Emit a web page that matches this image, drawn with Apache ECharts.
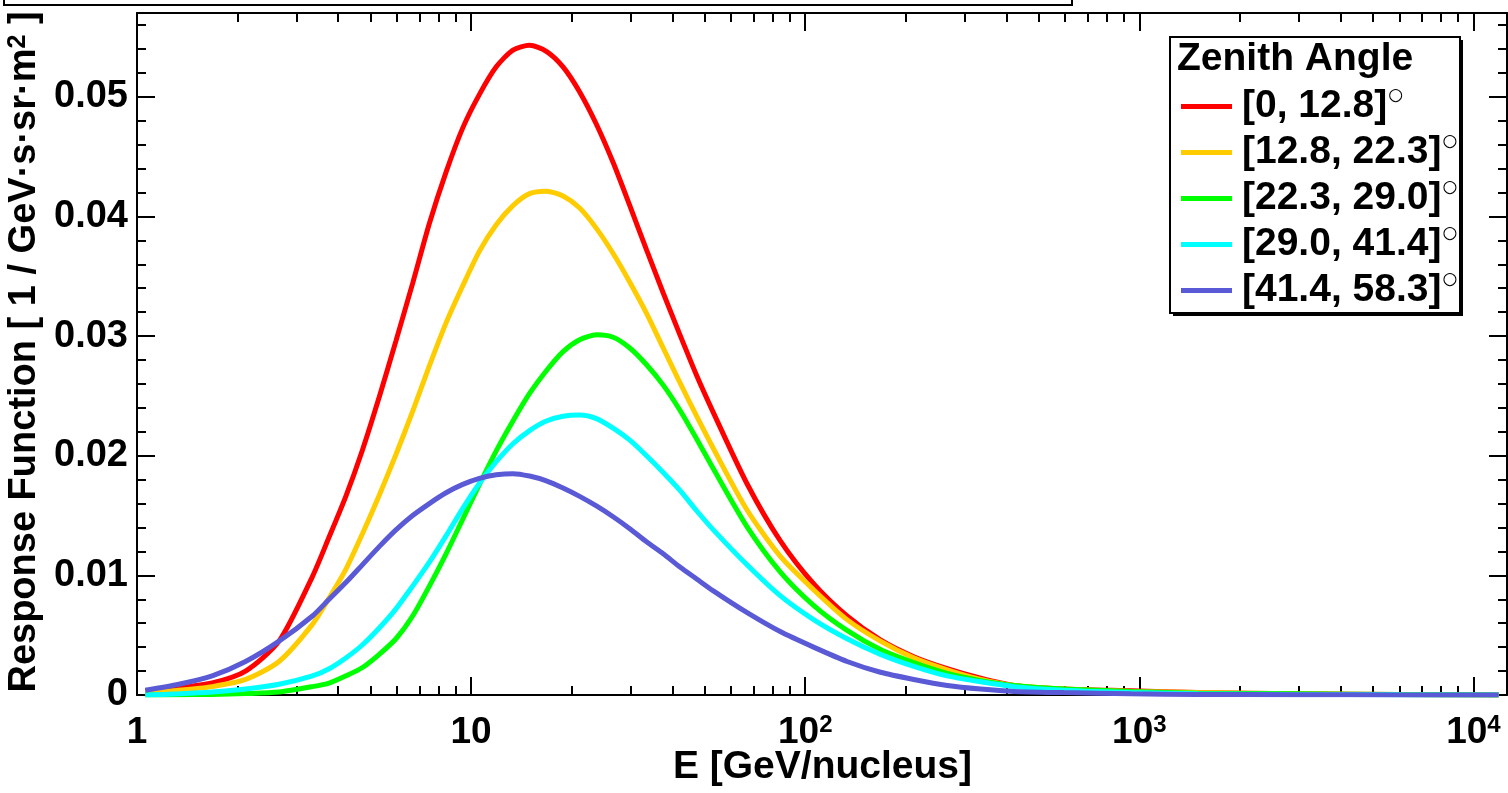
<!DOCTYPE html>
<html>
<head>
<meta charset="utf-8">
<script src="https://cdn.jsdelivr.net/npm/echarts@6/dist/echarts.min.js"></script>
<style>
html,body{margin:0;padding:0;background:#fff;}
#chart{width:1508px;height:793px;}
</style>
</head>
<body>
<div id="chart"></div>
<script>
// Energy bin centres [GeV/nucleus]
const energy = [1.059, 1.334, 1.679, 2.113, 2.661, 3.350, 3.758, 4.217, 4.732, 5.309,
  5.957, 6.683, 7.499, 8.414, 9.441, 10.59, 11.89, 13.34, 14.96, 16.79,
  18.84, 21.13, 23.71, 26.61, 29.85, 33.50, 37.58, 42.17, 47.32, 53.09,
  66.83, 84.14, 105.9, 133.4, 167.9, 211.3, 266.1, 335.0, 421.7, 595.7,
  944.1, 1496, 2985, 5957, 11885];

const seriesNames = ['[0, 12.8]°', '[12.8, 22.3]°', '[22.3, 29.0]°', '[29.0, 41.4]°', '[41.4, 58.3]°'];
const seriesColors = ['#ff0000', '#ffcc00', '#00ff00', '#00ffff', '#5a5ad6'];

const zen0 = [0.0003, 0.0006, 0.0010, 0.0020, 0.0045, 0.0099, 0.0132, 0.0166, 0.0205, 0.0249,
  0.0296, 0.0344, 0.0394, 0.0437, 0.0474, 0.0502, 0.0525, 0.0539, 0.0543, 0.0538,
  0.0525, 0.0504, 0.0477, 0.0445, 0.0409, 0.0372, 0.0336, 0.0301, 0.0267, 0.0236,
  0.0177, 0.0129, 0.0093, 0.0066, 0.0046, 0.0032, 0.0022, 0.0014, 0.0008, 0.0005,
  0.00035, 0.0002, 0.0001, 0.00005, 0];
const zen1 = [0.0002, 0.0004, 0.0007, 0.0013, 0.0028, 0.0059, 0.0081, 0.0105, 0.0135, 0.0167,
  0.0201, 0.0237, 0.0275, 0.0311, 0.0342, 0.0371, 0.0393, 0.0409, 0.0419, 0.0421,
  0.0417, 0.0407, 0.0390, 0.0369, 0.0345, 0.0319, 0.0290, 0.0261, 0.0233, 0.0206,
  0.0155, 0.0116, 0.0088, 0.0063, 0.0045, 0.0031, 0.0021, 0.0013, 0.0008, 0.0005,
  0.0003, 0.0002, 0.0001, 0.00005, 0];
const zen2 = [0, 0.00002, 0.00005, 0.00012, 0.00025, 0.0007, 0.0010, 0.0016, 0.0023, 0.0034,
  0.0047, 0.0066, 0.0091, 0.0118, 0.0147, 0.0176, 0.0204, 0.0229, 0.0252, 0.0271,
  0.0287, 0.0297, 0.0301, 0.0299, 0.0290, 0.0276, 0.0259, 0.0238, 0.0214, 0.0189,
  0.0141, 0.0103, 0.0075, 0.0054, 0.0038, 0.0027, 0.0018, 0.0012, 0.0008, 0.0005,
  0.0003, 0.00015, 0.0001, 0.00004, 0];
const zen3 = [0, 0.0001, 0.00025, 0.0005, 0.0009, 0.0016, 0.0022, 0.0031, 0.0042, 0.0056,
  0.0072, 0.0091, 0.0111, 0.0133, 0.0156, 0.0177, 0.0195, 0.0210, 0.0221, 0.0229,
  0.0233, 0.0234, 0.0231, 0.0223, 0.0213, 0.0200, 0.0186, 0.0171, 0.0154, 0.0138,
  0.0109, 0.0083, 0.0063, 0.0047, 0.0034, 0.0024, 0.0016, 0.0011, 0.0007, 0.0004,
  0.0002, 0.0001, 0.00005, 0.00002, 0];
const zen4 = [0.0004, 0.0009, 0.0016, 0.0028, 0.0045, 0.0066, 0.0080, 0.0094, 0.0109, 0.0124,
  0.0138, 0.0150, 0.0160, 0.0169, 0.0176, 0.0181, 0.0184, 0.0185, 0.0183, 0.0179,
  0.0173, 0.0166, 0.0158, 0.0149, 0.0139, 0.0128, 0.0118, 0.0107, 0.0097, 0.0087,
  0.0069, 0.0053, 0.0040, 0.0028, 0.0019, 0.0013, 0.0008, 0.0005, 0.0003, 0.0002,
  0.0001, 0.00005, 0.00002, 0.00001, 0];
const seriesValues = [zen0, zen1, zen2, zen3, zen4];

const xMajorTicks = [1, 10, 100, 1000, 10000];
const xMinorTicks = [2,3,4,5,6,7,8,9,20,30,40,50,60,70,80,90,200,300,400,500,600,700,800,900,2000,3000,4000,5000,6000,7000,8000,9000];
const xTickLabels = ['1', '10', '10{s|2}', '10{s|3}', '10{s|4}'];
const yMajorTicks = [0, 0.01, 0.02, 0.03, 0.04, 0.05];
const yMinorTicks = [0.002,0.004,0.006,0.008,0.012,0.014,0.016,0.018,0.022,0.024,0.026,0.028,
  0.032,0.034,0.036,0.038,0.042,0.044,0.046,0.048,0.052,0.054,0.056];
const yTickLabels = ['0', '0.01', '0.02', '0.03', '0.04', '0.05'];

const FONT = '"Liberation Sans", Arial, Helvetica, sans-serif';
const black = '#000';

function xAxisDef(pos, major, showLine) {
  return {
    type: 'log', logBase: 10, min: 1, max: 12600, position: pos,
    axisLine: {show: showLine, onZero: false, lineStyle: {color: black, width: 2}},
    axisTick: {show: true, inside: true, length: major ? 18 : 9, customValues: major ? xMajorTicks : xMinorTicks,
      lineStyle: {color: black, width: 2}},
    axisLabel: (major && pos === 'bottom') ? {
      show: true, customValues: xMajorTicks, margin: 18,
      formatter: v => xTickLabels[xMajorTicks.indexOf(Math.round(v))],
      color: black, fontFamily: FONT, fontWeight: 'bold', fontSize: 37, lineHeight: 40,
      rich: {s: {fontFamily: FONT, fontWeight: 'bold', fontSize: 24, verticalAlign: 'top', lineHeight: 40, padding: [0,0,14,0]}}
    } : {show: false},
    splitLine: {show: false}, minorTick: {show: false}
  };
}
function yAxisDef(pos, major, showLine) {
  return {
    type: 'value', min: 0, max: 0.057, position: pos,
    axisLine: {show: showLine, onZero: false, lineStyle: {color: black, width: 2}},
    axisTick: {show: true, inside: true, length: major ? 18 : 9, customValues: major ? yMajorTicks : yMinorTicks,
      lineStyle: {color: black, width: 2}},
    axisLabel: (major && pos === 'left') ? {
      show: true, customValues: yMajorTicks, margin: 9,
      formatter: v => yTickLabels[yMajorTicks.findIndex(t => Math.abs(t - v) < 1e-9)],
      color: black, fontFamily: FONT, fontWeight: 'bold', fontSize: 38
    } : {show: false},
    splitLine: {show: false}
  };
}

const series = seriesNames.map((name, i) => ({
  name: name, type: 'line', xAxisIndex: 0, yAxisIndex: 0,
  data: energy.map((e, k) => [e, seriesValues[i][k]]),
  showSymbol: false, smooth: 0.25,
  lineStyle: {color: seriesColors[i], width: 5}, itemStyle: {color: seriesColors[i]},
  silent: true, animation: false, clip: true
}));

const chart = echarts.init(document.getElementById('chart'), null, {renderer: 'canvas'});
chart.setOption({
  animation: false,
  backgroundColor: '#fff',
  grid: {left: 137, top: 13, width: 1370, height: 682, containLabel: false},
  xAxis: [xAxisDef('bottom', true, true), xAxisDef('bottom', false, false), xAxisDef('top', true, true), xAxisDef('top', false, false)],
  yAxis: [yAxisDef('left', true, true), yAxisDef('left', false, false), yAxisDef('right', true, true), yAxisDef('right', false, false)],
  legend: {
    show: true, z: 20, orient: 'vertical', left: 1181, top: 87, padding: 0, itemWidth: 51, itemHeight: 5, itemGap: 7,
    icon: 'rect', selectedMode: false,
    data: seriesNames,
    formatter: name => name.replace('°', '{d|○}'),
    textStyle: {color: black, fontFamily: FONT, fontWeight: 'bold', fontSize: 39, lineHeight: 39, padding: [0,0,0,5],
      rich: {d: {fontFamily: '"DejaVu Sans"', fontWeight: 'normal', fontSize: 17, verticalAlign: 'top', lineHeight: 39, padding: [0,0,18,1]}}}
  },
  graphic: [
    // cut-off title box at the very top
    {type: 'polyline', z: 10, shape: {points: [[4,0],[4,5],[1072,5],[1072,0]]}, style: {stroke: black, lineWidth: 2, fill: null}},
    // legend box with shadow
    {type: 'rect', z: 1, shape: {x: 1173, y: 40, width: 290, height: 276}, style: {fill: black}},
    {type: 'rect', z: 2, shape: {x: 1170, y: 37, width: 290, height: 276}, style: {fill: '#fff', stroke: black, lineWidth: 2}},
    {type: 'text', z: 7, x: 1177, y: 59, style: {text: 'Zenith Angle', fill: black, font: 'bold 39px ' + FONT, verticalAlign: 'middle', align: 'left'}},
    // axis titles
    {type: 'text', z: 7, x: 972, y: 767, style: {text: 'E [GeV/nucleus]', fill: black, font: 'bold 39px ' + FONT, verticalAlign: 'middle', align: 'right'}},
    {type: 'text', z: 7, x: 25, y: 352, rotation: Math.PI / 2,
      style: {text: 'Response Function [ 1 / GeV·s·sr·m{s|2} ]', fill: black, font: 'bold 38px ' + FONT, verticalAlign: 'middle', align: 'center',
        rich: {s: {font: 'bold 25px ' + FONT, verticalAlign: 'top', padding: [0,0,14,0]}}}}
  ],
  series: series
});
</script>
</body>
</html>
